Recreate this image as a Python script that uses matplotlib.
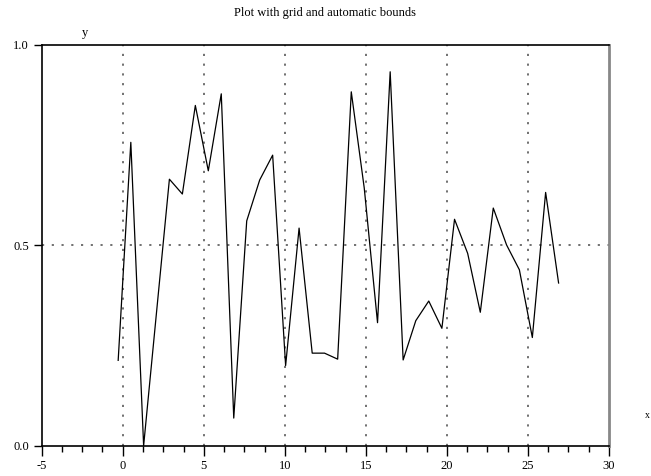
import matplotlib
matplotlib.use('Agg')
import matplotlib.pyplot as plt
from matplotlib.ticker import MultipleLocator

# values
x_vals = [-0.28, 0.5, 1.29, 2.88, 3.68, 4.48, 5.28, 6.08, 6.85, 7.65, 8.45, 9.25,
          10.05, 10.88, 11.69, 12.45, 13.26, 14.1, 14.9, 15.72, 16.5, 17.3, 18.08,
          18.88, 19.69, 20.47, 21.28, 22.06, 22.86, 23.68, 24.47, 25.27, 26.09, 26.89]
y_vals = [0.213, 0.757, 0.0, 0.665, 0.628, 0.849, 0.686, 0.878, 0.069, 0.561, 0.663,
          0.725, 0.2, 0.543, 0.231, 0.231, 0.216, 0.883, 0.643, 0.307, 0.933, 0.214,
          0.312, 0.361, 0.293, 0.565, 0.48, 0.333, 0.593, 0.501, 0.439, 0.27, 0.632,
          0.406]
x_grid = [0, 5, 10, 15, 20, 25]
y_grid = [0.5]

plt.rcParams['font.family'] = ['Liberation Serif', 'DejaVu Serif']
plt.rcParams['axes.unicode_minus'] = False

fig = plt.figure(figsize=(6.51, 4.76), dpi=100)
ax = fig.add_axes([0.064, 0.0636, 0.8715, 0.842])

dots = (0, (1.2, 4.2))
for g in x_grid:
    ax.axvline(g, color='#666666', linestyle=dots, linewidth=1.3, zorder=1)
for g in y_grid:
    ax.axhline(g, color='#666666', linestyle=dots, linewidth=1.3, zorder=1)

ax.plot(x_vals, y_vals, color='black', linewidth=0.9, zorder=2)

ax.set_xlim(-5, 30)
ax.set_ylim(0, 1)
ax.xaxis.set_major_locator(MultipleLocator(5))
ax.xaxis.set_minor_locator(MultipleLocator(1.25))
ax.set_yticks([0.0, 0.5, 1.0])
ax.set_yticklabels(['0.0', '0.5', '1.0'])

ax.tick_params(axis='x', which='major', direction='out', length=7, width=1, labelsize=9, pad=3)
ax.tick_params(axis='x', which='minor', direction='out', length=4, width=1)
ax.tick_params(axis='y', which='major', direction='out', length=6, width=1, labelsize=9, pad=3)

for side in ['left', 'bottom', 'top']:
    ax.spines[side].set_color('black')
    ax.spines[side].set_linewidth(1.2)
ax.spines['right'].set_color('#888888')
ax.spines['right'].set_linewidth(2)

fig.text(0.5, 1 - 13 / 476, 'Plot with grid and automatic bounds', ha='center', va='center', fontsize=9)
fig.text(85 / 651, 1 - 33 / 476, 'y', ha='center', va='center', fontsize=9)
fig.text(645 / 651, 1 - 415 / 476, 'x', ha='left', va='center', fontsize=7)

fig.savefig('out.png', dpi=100)
